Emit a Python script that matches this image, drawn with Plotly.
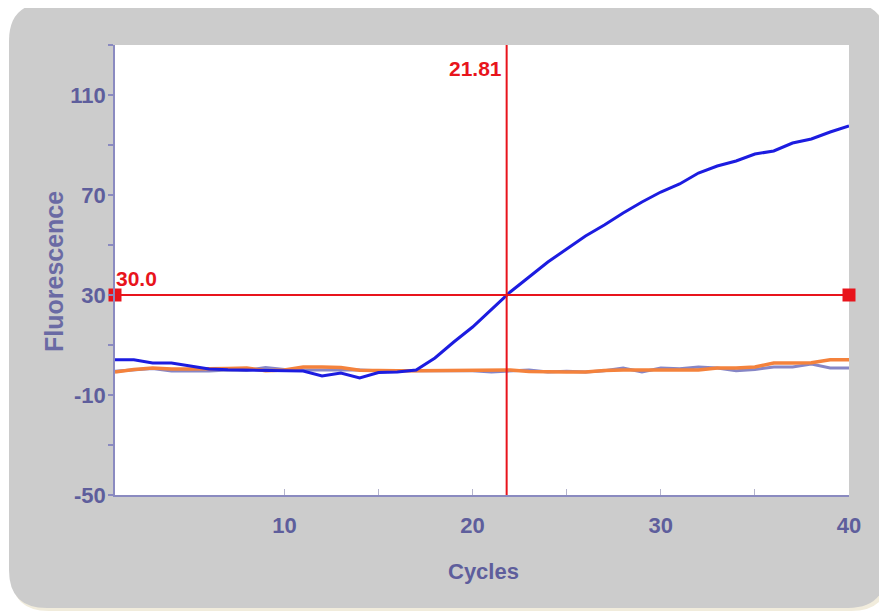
import plotly.graph_objects as go

# ---------------- data ----------------
cycles = list(range(1, 41))
sample_blue = [4.1, 4.1, 2.8, 2.8, 1.6, 0.4, 0.1, 0.0, 0.0, -0.4,
               -0.4, -2.4, -1.2, -3.2, -1.0, -0.8, 0.0, 4.8, 11.2, 17.2,
               24.4, 31.2, 37.2, 43.2, 48.4, 53.6, 58.0, 62.8, 67.2, 71.2,
               74.4, 78.8, 81.6, 83.6, 86.4, 87.6, 90.8, 92.4, 95.2, 97.6]
sample_orange = [-0.8, 0.2, 0.8, 0.4, 0.4, 0.4, 0.6, 0.8, -0.3, 0.0,
                 1.2, 1.2, 1.0, -0.1, -0.3, -0.3, -0.3, -0.3, -0.3, -0.3,
                 0.0, 0.0, -0.6, -0.8, -0.8, -0.8, -0.2, 0.0, 0.0, -0.3,
                 -0.2, 0.0, 0.8, 0.8, 1.2, 2.8, 2.8, 2.9, 4.1, 4.1]
sample_purple = [-0.5, 0.2, 0.6, -0.4, -0.4, -0.4, 0.0, -0.2, 1.0, 0.2,
                 0.0, 0.0, 0.2, 0.0, -0.3, -0.3, -0.3, -0.3, -0.3, -0.3,
                 -0.8, -0.3, 0.0, -0.8, -0.5, -0.8, -0.3, 0.8, -0.8, 0.8,
                 0.5, 1.2, 0.8, -0.3, 0.2, 1.2, 1.2, 2.4, 0.8, 0.8]
threshold = 30.0
ct_value = 21.81
x_range = [1, 40]
y_range = [-50, 130]
y_major = [-50, -10, 30, 70, 110]
y_minor = [-30, 10, 50, 90, 130]
x_major = [10, 20, 30, 40]
x_minor = [15, 25, 35]

# ---------------- geometry (screen pixels; page body has an 8px margin) ----------------
OFF = 8
W, H = 887 - OFF, 615 - OFF
PL, PR, PT, PB = 115, 849, 45, 495          # plot area in screen pixels
L, T = PL - OFF, PT - OFF
R, B = (887 - PR), (615 - PB)
PW, PH = PR - PL, PB - PT


def px(x):
    return (x - PL) / PW


def py(y):
    return (PB - y) / PH


def rounded_rect(x0, y0, x1, y1, r):
    pts = [
        f"M {px(x0 + r)},{py(y0)}",
        f"L {px(x1 - r)},{py(y0)}",
        f"Q {px(x1)},{py(y0)} {px(x1)},{py(y0 + r)}",
        f"L {px(x1)},{py(y1 - r)}",
        f"Q {px(x1)},{py(y1)} {px(x1 - r)},{py(y1)}",
        f"L {px(x0 + r)},{py(y1)}",
        f"Q {px(x0)},{py(y1)} {px(x0)},{py(y1 - r)}",
        f"L {px(x0)},{py(y0 + r)}",
        f"Q {px(x0)},{py(y0)} {px(x0 + r)},{py(y0)}",
        "Z",
    ]
    return " ".join(pts)


AXIS_COL = "#8a8ac0"
TEXT_COL = "#5e5e9c"
RED = "#e8141c"
FONT = "Liberation Sans, Arial, sans-serif"

fig = go.Figure()

fig.add_trace(go.Scatter(x=cycles, y=sample_purple, mode="lines",
                         line=dict(color="#8686c6", width=3), hoverinfo="skip"))
fig.add_trace(go.Scatter(x=cycles, y=sample_orange, mode="lines",
                         line=dict(color="#f4823c", width=3.5), hoverinfo="skip"))
fig.add_trace(go.Scatter(x=cycles, y=sample_blue, mode="lines",
                         line=dict(color="#1c1ce0", width=3), hoverinfo="skip"))

# threshold line with end handles
fig.add_trace(go.Scatter(x=x_range, y=[threshold, threshold], mode="lines+markers",
                         line=dict(color=RED, width=2),
                         marker=dict(symbol="square", size=13, color=RED),
                         cliponaxis=False, hoverinfo="skip"))
# Ct vertical line
fig.add_trace(go.Scatter(x=[ct_value, ct_value], y=y_range, mode="lines",
                         line=dict(color=RED, width=2), hoverinfo="skip"))

shapes = [
    dict(type="path", xref="paper", yref="paper", layer="below",
         path=rounded_rect(11, 6, 889, 611, 38), fillcolor="#f1ecdc",
         line=dict(width=0)),
    dict(type="path", xref="paper", yref="paper", layer="below",
         path=rounded_rect(9, 3, 886, 608, 38), fillcolor="#cccccc",
         line=dict(width=0)),
    dict(type="rect", xref="paper", yref="paper", layer="below",
         x0=0, x1=1, y0=0, y1=1, fillcolor="white", line=dict(width=0)),
]

annotations = [
    dict(x=ct_value, y=120.5, xref="x", yref="y", text=f"<b>{ct_value:.2f}</b>",
         showarrow=False, xanchor="right", yanchor="middle", xshift=-3,
         font=dict(family=FONT, size=21, color=RED)),
    dict(x=x_range[0], y=threshold, xref="x", yref="y", text=f"<b>{threshold:.1f}</b>",
         showarrow=False, xanchor="left", yanchor="bottom", yshift=3, xshift=-1,
         font=dict(family=FONT, size=21, color=RED)),
    dict(x=px(483), y=py(571), xref="paper", yref="paper", text="<b>Cycles</b>",
         showarrow=False, xanchor="center", yanchor="middle",
         font=dict(family=FONT, size=22, color=TEXT_COL)),
    dict(x=px(54), y=py(271), xref="paper", yref="paper", text="<b>Fluorescence</b>",
         showarrow=False, xanchor="center", yanchor="middle", textangle=-90,
         font=dict(family=FONT, size=25, color="#6a6aa4")),
]

fig.update_layout(
    width=W, height=H,
    margin=dict(l=L, r=R, t=T, b=B, pad=0),
    paper_bgcolor="white", plot_bgcolor="white",
    showlegend=False,
    shapes=shapes,
    annotations=annotations,
    font=dict(family=FONT, color=TEXT_COL),
)

fig.update_xaxes(
    range=x_range, showgrid=False, zeroline=False,
    showline=True, linecolor=AXIS_COL, linewidth=1.5,
    tickmode="array", tickvals=x_major, ticktext=[f"<b>{v}</b>" for v in x_major],
    ticks="inside", ticklen=6, tickcolor="#b4b4cc", tickwidth=1,
    tickfont=dict(family=FONT, size=22, color=TEXT_COL),
    ticklabelstandoff=10,
    minor=dict(tickmode="array", tickvals=x_minor, ticks="inside", ticklen=6,
               tickcolor="#b4b4cc", showgrid=False),
)
fig.update_yaxes(
    range=y_range, showgrid=False, zeroline=False,
    showline=True, linecolor=AXIS_COL, linewidth=1.5,
    tickmode="array", tickvals=y_major, ticktext=[f"<b>{v}</b>" for v in y_major],
    ticks="outside", ticklen=5, tickcolor=AXIS_COL, tickwidth=2,
    tickfont=dict(family=FONT, size=22, color=TEXT_COL),
    ticklabelstandoff=-2,
    minor=dict(tickmode="array", tickvals=y_minor, ticks="outside", ticklen=5,
               tickcolor=AXIS_COL, tickwidth=2, showgrid=False),
)

fig.write_html("out.html")
